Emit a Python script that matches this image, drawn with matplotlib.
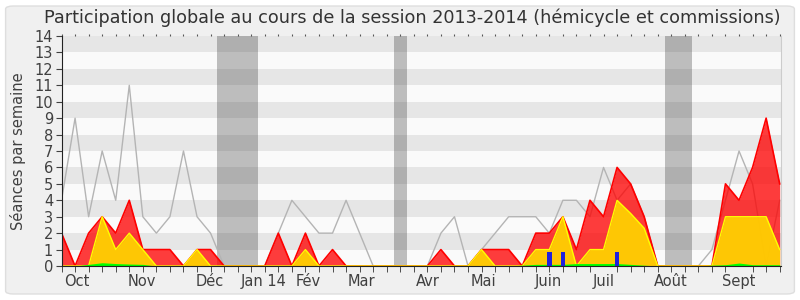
import numpy as np
import matplotlib.pyplot as plt
from matplotlib.patches import FancyBboxPatch

# one point per week, session 2013-2014
weeks = np.arange(54)
seances = [4, 9, 3, 7, 4, 11, 3, 2, 3, 7, 3, 2, 0, 0, 0, 0, 2, 4, 3, 2,
           2, 4, 2, 0, 0, 0, 0, 0, 2, 3, 0, 1, 2, 3, 3, 3, 2, 4, 4, 3,
           6, 4, 5, 3, 0, 0, 0, 0, 1, 4, 7, 5, 0, 4]
presences = [2, 0, 2, 3, 2, 4, 1, 1, 1, 0, 1, 1, 0, 0, 0, 0, 2, 0, 2, 0,
             1, 0, 0, 0, 0, 0, 0, 0, 1, 0, 0, 1, 1, 1, 0, 2, 2, 3, 1, 4,
             3, 6, 5, 3, 0, 0, 0, 0, 0, 5, 4, 6, 9, 5]
participations = [0, 0, 0, 3, 1, 2, 1, 0, 0, 0, 1, 0, 0, 0, 0, 0, 0, 0, 1, 0,
                  0, 0, 0, 0, 0, 0, 0, 0, 0, 0, 0, 1, 0, 0, 0, 1, 1, 3, 0, 1,
                  1, 4, 3.2, 2.3, 0, 0, 0, 0, 0, 3, 3, 3, 3, 1]
interventions = [0, 0, 0.1, 0.2, 0.15, 0.12, 0.1, 0, 0, 0, 0, 0, 0, 0, 0, 0, 0, 0, 0, 0,
                 0, 0, 0, 0, 0, 0, 0, 0, 0, 0, 0, 0, 0, 0, 0.05, 0.1, 0.1, 0.1, 0.15, 0.15,
                 0.15, 0.15, 0.1, 0.05, 0, 0, 0, 0, 0.05, 0.08, 0.18, 0.08, 0.08, 0.08]
questions = [0] * 54
questions[36] = 0.85
questions[37] = 0.85
questions[41] = 0.85

vacances = [(11.5, 14.5), (24.5, 25.5), (44.5, 46.5)]
mois = ['Oct', 'Nov', 'Déc', 'Jan 14', 'Fév', 'Mar', 'Avr', 'Mai', 'Juin', 'Juil', 'Août', 'Sept']
mois_pos = [1.1, 5.93, 10.94, 14.9, 18.2, 22.1, 27.03, 31.15, 35.95, 40.0, 44.96, 50.0]

plt.rcParams['font.family'] = 'DejaVu Sans'
fig = plt.figure(figsize=(8, 3), dpi=100, facecolor='white')
frame = FancyBboxPatch((0.007, 0.02), 0.986, 0.96, boxstyle='round,pad=0,rounding_size=0.01',
                       transform=fig.transFigure, facecolor='#f0f0f0', edgecolor='#dedede',
                       lw=1, zorder=-10)
fig.patches.append(frame)

ax = fig.add_axes([0.0769, 0.1133, 0.8994, 0.7667])
ax.set_zorder(1)
ax.set_facecolor('#fafafa')
for k in range(1, 14, 2):
    ax.axhspan(k, k + 1, color='#e6e6e6', lw=0, zorder=0)
for a, b in vacances:
    ax.axvspan(a, b, color='#323232', alpha=0.3, lw=0, zorder=1)

ax.plot(weeks, seances, color='#b4b4b4', lw=1, zorder=2)
ax.fill_between(weeks, presences, color='#ff0000', alpha=0.76, lw=0, zorder=3)
ax.plot(weeks, presences, color='#ff0000', lw=1.2, zorder=3)
ax.fill_between(weeks, participations, color='#ffd400', alpha=0.92, lw=0, zorder=4)
ax.plot(weeks, participations, color='#ffff00', lw=1, zorder=4)
ax.fill_between(weeks, interventions, color='#00ff00', lw=0, zorder=5)
ax.bar(weeks, questions, width=0.33, color='#2020dd', zorder=6)

ax.set_xlim(0, 53.1)
ax.set_ylim(0, 14)
ax.set_yticks(range(15))
ax.set_xticks(mois_pos, mois)
ax.set_xticks(weeks, minor=True)
ax.tick_params(axis='x', which='major', length=0, pad=6, labelsize=10.5, colors='#404040')
ax.tick_params(axis='x', which='minor', length=4, color='#333333')
ax.tick_params(axis='y', length=4, pad=2, labelsize=10.5, colors='#404040')
top = ax.secondary_xaxis('top')
top.set_xticks(weeks, [])
top.tick_params(length=1.5, color='#555555')
top.spines['top'].set_visible(False)

for s in ['left', 'bottom']:
    ax.spines[s].set_color('#222222')
    ax.spines[s].set_zorder(10)
ax.spines['top'].set_visible(False)
ax.spines['right'].set_color('#cccccc')

fig.text(0.5156, 0.94, 'Participation globale au cours de la session 2013-2014 (hémicycle et commissions)',
         ha='center', va='center', fontsize=12.7, color='#333333')
fig.text(0.0225, 0.497, 'Séances par semaine', rotation=90, ha='center', va='center',
         fontsize=10.5, color='#404040')

fig.savefig('out.png', dpi=100, facecolor=fig.get_facecolor())
